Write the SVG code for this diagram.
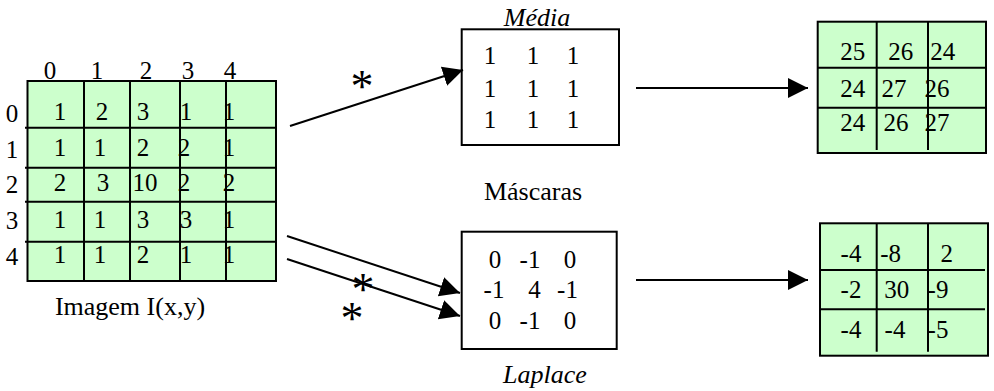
<svg xmlns="http://www.w3.org/2000/svg" width="994" height="391" viewBox="0 0 994 391">
<style>
text{font-family:"Liberation Serif","Times New Roman",serif;font-size:25px;fill:#000;text-anchor:middle}
.lb{font-size:26px}
.it{font-style:italic}
.ast{font-size:46px}
.grid{fill:#ccffcc;stroke:#000;stroke-width:2}
.ln{stroke:#000;stroke-width:2;fill:none}
.box{fill:#fff;stroke:#000;stroke-width:2}
.conn{stroke:#000;stroke-width:2;fill:none;marker-end:url(#ah)}
</style>
<defs>
<marker id="ah" markerUnits="userSpaceOnUse" markerWidth="22" markerHeight="22" refX="20" refY="10" orient="auto">
<path d="M0,0 L20,10 L0,20 z" fill="#000"/>
</marker>
</defs>

<g id="image">
<rect class="grid" x="27.5" y="81" width="248.5" height="200"/>
<path class="ln" d="M84,81V281M130,81V281M180,81V281M226,81V281M25,127.7H276M25,167.7H276M25,201.7H276M25,241.7H276"/>
<g style="font-size:22px">
<text x="50" y="79">0</text><text x="97" y="79">1</text><text x="146" y="79">2</text><text x="188" y="79">3</text><text x="230" y="79">4</text>
<text x="12" y="121.7">0</text><text x="12" y="158">1</text><text x="12" y="193">2</text><text x="12" y="229">3</text><text x="12" y="265">4</text>
</g>
<text x="60" y="120">1</text><text x="102" y="120">2</text><text x="143" y="120">3</text><text x="186" y="120">1</text><text x="229" y="120">1</text>
<text x="60" y="156">1</text><text x="100" y="156">1</text><text x="143" y="156">2</text><text x="184" y="156">2</text><text x="229" y="156">1</text>
<text x="60" y="191">2</text><text x="103" y="191">3</text><text x="145" y="191">10</text><text x="184" y="191">2</text><text x="229" y="191">2</text>
<text x="60" y="227.7">1</text><text x="100" y="227.7">1</text><text x="143" y="227.7">3</text><text x="186" y="227.7">3</text><text x="229" y="227.7">1</text>
<text x="60" y="263">1</text><text x="100" y="263">1</text><text x="143" y="263">2</text><text x="186" y="263">1</text><text x="229" y="263">1</text>
<text class="lb" x="130" y="315">Imagem I(x,y)</text>
</g>

<g id="media">
<rect class="box" x="461.7" y="29.3" width="157.3" height="115.7"/>
<text class="lb it" x="537" y="26">Média</text>
<text x="490" y="64">1</text><text x="533" y="64">1</text><text x="573" y="64">1</text>
<text x="490" y="97">1</text><text x="533" y="97">1</text><text x="573" y="97">1</text>
<text x="490" y="128">1</text><text x="533" y="128">1</text><text x="573" y="128">1</text>
</g>

<g id="mascaras">
<text class="lb" x="533" y="200">Máscaras</text>
</g>

<g id="laplace">
<rect class="box" x="461.7" y="231.7" width="155" height="117.3"/>
<text x="495" y="268">0</text><text x="530" y="268">-1</text><text x="570" y="268">0</text>
<text x="494" y="298">-1</text><text x="534.5" y="298">4</text><text x="567.5" y="298">-1</text>
<text x="495" y="329">0</text><text x="530" y="329">-1</text><text x="570" y="329">0</text>
<text class="lb it" x="545" y="383">Laplace</text>
</g>

<g id="result-media">
<rect class="grid" x="817.7" y="21.7" width="168.3" height="131.3"/>
<path class="ln" d="M876.7,21.7V150M928,21.7V150M817.7,67.7H986M817.7,107.7H986"/>
<text x="852.7" y="60">25</text><text x="900.7" y="60">26</text><text x="942.7" y="60">24</text>
<text x="852.7" y="96.7">24</text><text x="894" y="96.7">27</text><text x="937" y="96.7">26</text>
<text x="852.7" y="131">24</text><text x="896" y="131">26</text><text x="937" y="131">27</text>
</g>

<g id="result-laplace">
<rect class="grid" x="820" y="223.3" width="168" height="132.4"/>
<path class="ln" d="M876.7,223.3V351.7M928,223.3V351.7M820,270H985M820,309.3H985"/>
<text x="851" y="261.7">-4</text><text x="890.7" y="261.7">-8</text><text x="946.7" y="261.7">2</text>
<text x="851" y="298">-2</text><text x="896.7" y="298">30</text><text x="938" y="298">-9</text>
<text x="851" y="338">-4</text><text x="895" y="338">-4</text><text x="938" y="338">-5</text>
</g>

<g id="connectors">
<line class="conn" x1="290" y1="126" x2="463" y2="70"/>
<line class="conn" x1="287" y1="236" x2="460" y2="293"/>
<line class="conn" x1="287" y1="259" x2="460" y2="316"/>
<line class="conn" x1="636" y1="88" x2="808" y2="88"/>
<line class="conn" x1="636" y1="280" x2="808" y2="280"/>
<text class="ast" x="362" y="101.5">*</text>
<text class="ast" x="363" y="304.5">*</text>
<text class="ast" x="352" y="333.5">*</text>
</g>
</svg>
